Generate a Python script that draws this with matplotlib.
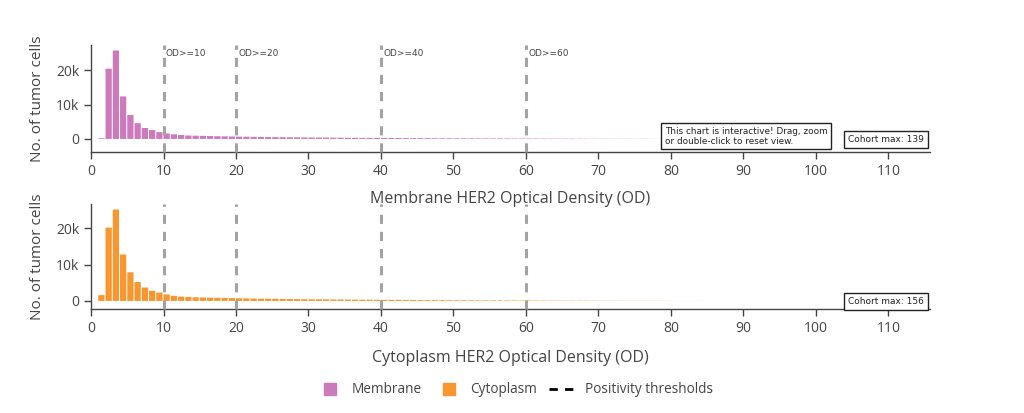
import numpy as np
import matplotlib.pyplot as plt
from matplotlib.lines import Line2D

plt.rcParams['font.family'] = ['Open Sans', 'DejaVu Sans']

# histogram bins (left edge, width 1 OD)
membrane_bins = list(range(1, 79))
membrane_counts = [
    200, 20500, 25800, 12400, 7000, 4600, 3200, 2600, 2000, 1600,
    1350, 1150, 1000, 950, 900, 850, 800, 760, 720, 680,
    650, 620, 590, 560, 535, 510, 490, 470, 450, 430,
    410, 395, 380, 365, 350, 335, 320, 310, 300, 290,
    280, 270, 260, 250, 240, 230, 222, 214, 206, 198,
    190, 182, 175, 168, 161, 154, 147, 140, 134, 128,
    122, 116, 110, 104, 98, 92, 86, 80, 74, 68,
    62, 56, 50, 44, 38, 32, 26, 20,
]
cytoplasm_bins = list(range(1, 88))
cytoplasm_counts = [
    1600, 20200, 25200, 12800, 7900, 5200, 3700, 2800, 2300, 1800,
    1400, 1200, 1100, 1000, 950, 900, 860, 820, 780, 740,
    700, 670, 640, 610, 580, 555, 530, 505, 485, 465,
    445, 425, 405, 390, 375, 360, 345, 330, 318, 306,
    294, 282, 270, 258, 247, 236, 226, 216, 206, 197,
    188, 180, 172, 164, 156, 149, 142, 135, 128, 122,
    116, 110, 104, 98, 92, 87, 82, 77, 72, 67,
    62, 57, 52, 48, 44, 40, 36, 32, 28, 24,
    21, 18, 15, 12, 9, 6, 3,
]
thresholds = [10, 20, 40, 60]
cohort_max = {'Membrane': 139, 'Cytoplasm': 156}

membrane_color = '#cc7abb'
cytoplasm_color = '#f8962f'
thr_color = '#a3a3a3'
text_color = '#444444'

fig = plt.figure(figsize=(10.24, 4.13), dpi=100)
ax1 = fig.add_axes([0.0889, 0.632, 0.819, 0.259])
ax2 = fig.add_axes([0.0889, 0.252, 0.819, 0.254])

panels = [
    (ax1, membrane_bins, membrane_counts, membrane_color, 'Membrane', (-3800, 27400), 8.5, 0.075),
    (ax2, cytoplasm_bins, cytoplasm_counts, cytoplasm_color, 'Cytoplasm', (-2200, 26700), 10, 0.03),
]

for ax, bins, counts, color, name, ylim, xpad, box_y in panels:
    ax.set_facecolor('none')
    bars = ax.bar(bins, counts, width=0.86, align='edge', color=color, linewidth=0, zorder=2)
    for b in bars:
        b.set_snap(False)
    for t in thresholds:
        ax.axvline(t, color=thr_color, lw=2.2, dashes=(3, 2.6), zorder=3, clip_on=False)
    ax.set_xlim(0, 115.7)
    ax.set_ylim(*ylim)
    ax.set_xticks(range(0, 111, 10))
    ax.set_yticks([0, 10000, 20000])
    ax.set_yticklabels(['0', '10k', '20k'])
    for s in ['top', 'right']:
        ax.spines[s].set_visible(False)
    for s in ['left', 'bottom']:
        ax.spines[s].set_color(text_color)
        ax.spines[s].set_linewidth(1)
    ax.tick_params(colors=text_color, labelsize=10, length=5, width=1)
    ax.set_ylabel('No. of tumor cells', fontsize=11, color=text_color, labelpad=8)
    ax.set_xlabel(f'{name} HER2 Optical Density (OD)', fontsize=11.5, color=text_color, labelpad=xpad)
    ax.text(0.993, box_y, f'Cohort max: {cohort_max[name]}',
            transform=ax.transAxes, ha='right', va='bottom', fontsize=6.5,
            family='DejaVu Sans', color='#222222',
            bbox=dict(boxstyle='square,pad=0.45', fc='white', ec='#222222', lw=1), zorder=5)

for t in thresholds:
    ax1.text(t + 0.3, ax1.get_ylim()[1] - 1200, f'OD>={t}', fontsize=6.5,
             family='DejaVu Sans', color=text_color, ha='left', va='top', zorder=4)

ax1.text(0.684, 0.06, 'This chart is interactive! Drag, zoom\nor double-click to reset view.',
         transform=ax1.transAxes, ha='left', va='bottom', fontsize=6.4,
         family='DejaVu Sans', color='#222222', linespacing=1.15,
         bbox=dict(boxstyle='square,pad=0.4', fc='white', ec='#222222', lw=1), zorder=5)

handles = [
    Line2D([], [], marker='s', markersize=8, linestyle='none', color=membrane_color, label='Membrane'),
    Line2D([], [], marker='s', markersize=8, linestyle='none', color=cytoplasm_color, label='Cytoplasm'),
    Line2D([0], [0], color='black', lw=2, dashes=(3, 2.6), label='Positivity thresholds'),
]
leg = fig.legend(handles=handles, loc='center', bbox_to_anchor=(0.502, 0.056), ncol=3,
                 frameon=False, fontsize=9.8, handlelength=2.2, columnspacing=0.9,
                 handletextpad=0.45)
for txt in leg.get_texts():
    txt.set_color(text_color)

fig.savefig('out.png', dpi=100)
